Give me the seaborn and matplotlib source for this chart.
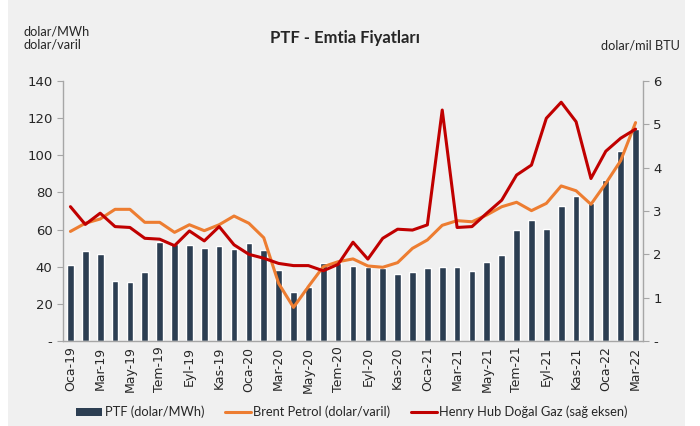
import numpy as np
import pandas as pd
import matplotlib
matplotlib.use("Agg")
import matplotlib.pyplot as plt
import seaborn as sns
from matplotlib.patches import Patch, Rectangle
from matplotlib.lines import Line2D

months = ["Oca", "Şub", "Mar", "Nis", "May", "Haz", "Tem", "Ağu", "Eyl", "Eki", "Kas", "Ara"]
labels = [f"{m}-{y}" for y in ("19", "20", "21", "22") for m in months][:39]

# PTF (dolar/MWh)
ptf = [41.1, 48.3, 46.8, 32.3, 31.8, 37.3, 53.3, 52.2, 51.7, 49.9, 51.2, 49.4,
       52.8, 48.8, 38.2, 26.2, 28.9, 42.2, 42.0, 40.6, 40.0, 39.1, 36.1, 37.2,
       39.5, 40.0, 40.0, 37.7, 42.7, 46.1, 59.6, 65.0, 60.5, 72.7, 78.3, 74.1,
       86.7, 102.3, 114.0]
# Brent Petrol (dolar/varil)
brent = [59.0, 63.4, 65.7, 70.9, 70.9, 63.9, 63.9, 58.5, 62.6, 59.4, 62.6, 67.3,
         63.4, 55.6, 31.0, 18.1, 29.3, 40.0, 42.7, 44.2, 40.4, 39.7, 42.2, 49.9,
         54.4, 62.3, 64.8, 64.2, 67.9, 72.3, 74.7, 70.2, 74.1, 83.5, 80.9, 73.6,
         84.9, 97.1, 117.6]
# Henry Hub Doğal Gaz (dolar/mil BTU, sağ eksen)
henry = [3.10, 2.69, 2.95, 2.64, 2.62, 2.37, 2.35, 2.20, 2.54, 2.31, 2.64, 2.22,
         2.00, 1.91, 1.79, 1.74, 1.74, 1.62, 1.77, 2.28, 1.89, 2.37, 2.58, 2.56,
         2.68, 5.33, 2.62, 2.64, 2.95, 3.25, 3.83, 4.06, 5.14, 5.51, 5.06, 3.75,
         4.38, 4.68, 4.89]

df = pd.DataFrame({"ay": labels, "pos": np.arange(len(labels)),
                   "ptf": ptf, "brent": brent, "henry": henry})

bg = "#f0f0f0"
navy = "#2c3e52"
orange = "#ed7d31"
red = "#c00000"
axc = "#a6a6a6"
narrow = ["Lato", "DejaVu Sans"]

sns.set_style("white")
plt.rcParams["font.family"] = ["DejaVu Sans"]

fig = plt.figure(figsize=(7, 4.26), dpi=100, facecolor="white")
fig.patches.append(Rectangle((8 / 700, 0), 677 / 700, 1, transform=fig.transFigure,
                             facecolor=bg, edgecolor="none", zorder=-10))
ax = fig.add_axes([63 / 700, 1 - 341 / 426, 580 / 700, 260 / 426])
ax.set_facecolor("none")

sns.barplot(data=df, x="ay", y="ptf", color=navy, width=0.45, saturation=1, ax=ax)
sns.lineplot(data=df, x="pos", y="brent", color=orange, linewidth=2.2, ax=ax)
ax.set_xlim(-0.5, len(labels) - 0.5)
ax.set_ylim(0, 140)
ax.set_yticks(np.arange(0, 141, 20))
ax.set_yticklabels(["-"] + [str(v) for v in range(20, 141, 20)])

ax2 = ax.twinx()
sns.lineplot(data=df, x="pos", y="henry", color=red, linewidth=2.2, ax=ax2)
ax2.set_ylim(0, 6)
ax2.set_yticks(np.arange(0, 7))
ax2.set_yticklabels(["-"] + [str(v) for v in range(1, 7)])
ax2.set_xlim(-0.5, len(labels) - 0.5)

# x tick labels every 2 months, tick marks at slot boundaries
ax.set_xticks(np.arange(0, len(labels), 2))
ax.set_xticklabels(labels[::2], rotation=90, fontsize=9)
ax.set_xticks(np.arange(-0.5, len(labels), 2), minor=True)
ax.tick_params(axis="x", which="major", length=0, pad=4)
ax.tick_params(axis="x", which="minor", length=4, color=axc, direction="out")

for a in (ax, ax2):
    a.set_xlabel("")
    a.set_ylabel("")
    a.spines["top"].set_visible(False)
    for s in ("left", "right", "bottom"):
        a.spines[s].set_color(axc)
        a.spines[s].set_linewidth(1)
ax.spines["right"].set_visible(False)
ax2.spines["left"].set_visible(False)
ax2.spines["bottom"].set_visible(False)
ax.tick_params(axis="y", length=4, color=axc, labelsize=9.5, direction="out", left=True)
ax2.tick_params(axis="y", length=4, color=axc, labelsize=9.5, direction="out", right=True)

fig.text(345 / 700, 1 - 38 / 426, "PTF - Emtia Fiyatları", ha="center", va="center",
         fontsize=12, fontweight="bold", family=narrow)
fig.text(23 / 700, 1 - 38 / 426, "dolar/MWh\ndolar/varil", ha="left", va="center",
         fontsize=9.2, family=narrow, linespacing=1.1)
fig.text(680 / 700, 1 - 46 / 426, "dolar/mil BTU", ha="right", va="center",
         fontsize=9.2, family=narrow)

handles = [Patch(facecolor=navy, edgecolor="none"),
           Line2D([], [], color=orange, linewidth=2.2),
           Line2D([], [], color=red, linewidth=2.2)]
names = ["PTF (dolar/MWh)", "Brent Petrol (dolar/varil)", "Henry Hub Doğal Gaz (sağ eksen)"]
leg = fig.legend(handles, names, loc="center", bbox_to_anchor=(352 / 700, 1 - 412 / 426),
                 ncol=3, frameon=False, handlelength=2.0, handleheight=0.55,
                 handletextpad=0.2, columnspacing=1.6, prop={"family": narrow, "size": 9.3})

fig.savefig("out.png", dpi=100, facecolor="white")
